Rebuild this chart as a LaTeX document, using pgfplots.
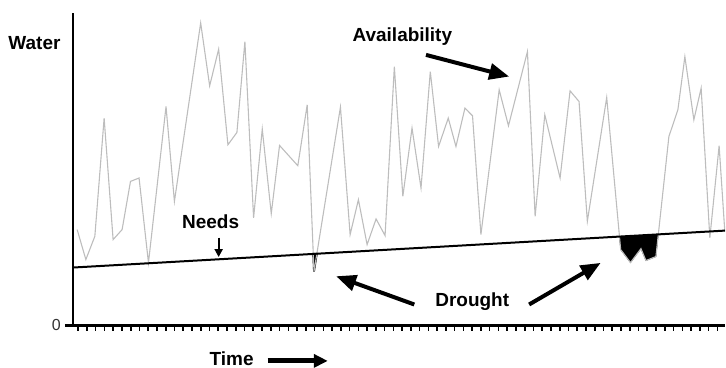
\documentclass[border=0pt]{standalone}
\usepackage{fontspec}
\setmainfont{Liberation Sans}
\usepackage{pgfplots}
\pgfplotsset{compat=1.18}
\usepgfplotslibrary{fillbetween}
\usetikzlibrary{arrows.meta}
\begin{document}
\begin{tikzpicture}
\begin{axis}[
  x=0.5pt, y=0.5pt,
  xmin=73, xmax=726, ymin=0, ymax=313,
  axis lines=left,
  axis line style={-, line width=1pt},
  x axis line style={shorten <=-4pt, line width=1.2pt},
  xtick={78.3,87.07,...,726},
  xticklabels={},
  ytick={0}, yticklabels={0},
  tick align=outside,
  major tick length=2.6pt,
  tick style={black, line width=0.8pt},
  ticklabel style={font=\fontsize{8}{9}\selectfont, text=black!80},
  /pgf/number format/assume math mode=true,
  clip=false,
]
\addplot[name path=avail, color=black!26, line width=0.55pt] coordinates {
(77.3,96) (86,66) (95,89.3) (104.3,207.7) (113.3,86) (122.3,96)
(130.7,144.3) (139.3,147.7) (148.7,62.7) (166.3,219.3) (174.7,124.3)
(201,303) (210,240) (219,276.7) (228.3,181) (237.3,193.3) (245.3,284.3)
(254,107.7) (262.7,196.7) (271.7,112) (280,180.3) (298.3,160) (307.7,221)
(314.5,54) (341,218.7) (350.7,91) (359,126) (367.7,81) (376.7,106.7)
(385.7,90) (395,259.3) (403.5,129.3) (412.7,197.7) (421.7,137.7)
(431,254.3) (439.3,179.3) (449,207.7) (456.7,179.3) (465.7,217.7)
(473.3,210) (481.7,91) (500,236) (509.3,200) (528.3,274.3) (536,109.3)
(545.7,211) (561,147.7) (571,235) (580,224.3) (588.3,104.3) (607.7,228.3)
(621.7,76) (631.5,63) (642,77) (647,65) (657,69) (670,189.3) (679,216)
(686,269.3) (695,206) (702.3,237.7) (711,87.7) (720.3,180) (726,94)
};
\addplot[name path=needs, black, line width=1pt] coordinates {(73,58) (726,95)};
\addplot[black, draw=black, line width=0.9pt, line join=miter] fill between[of=avail and needs, soft clip={domain=313.8:317.4}];
\addplot[black, draw=black, line width=0.3pt] fill between[of=avail and needs, soft clip={domain=620.5:659.4}];

\tikzset{lbl/.style={inner sep=0pt, font=\bfseries\fontsize{9.5}{11}\selectfont}}
\node[lbl] at (axis cs:34.5,282.5) {Water};
\node[lbl] at (axis cs:403,289) {Availability};
\node[lbl] at (axis cs:211,103.5) {Needs};
\node[lbl] at (axis cs:473,24) {Drought};
\node[lbl] at (axis cs:232,-33.5) {Time};

\draw[line width=2pt, -{Triangle[length=10pt,width=8pt]}] (axis cs:426.7,271) -- (axis cs:510,249.3);
\draw[line width=1.1pt, -{Triangle[length=4pt,width=4pt]}] (axis cs:219,88) -- (axis cs:219,68.5);
\draw[line width=2pt, -{Triangle[length=10pt,width=8pt]}] (axis cs:415,21) -- (axis cs:336.7,49.3);
\draw[line width=2pt, -{Triangle[length=10pt,width=8pt]}] (axis cs:530,21) -- (axis cs:601.7,62.7);
\draw[line width=2.5pt, -{Triangle[length=7pt,width=6.5pt]}] (axis cs:268,-35.5) -- (axis cs:328.3,-35.5);

\path (axis cs:0,-41) rectangle (axis cs:726,326);
\end{axis}
\end{tikzpicture}
\end{document}
